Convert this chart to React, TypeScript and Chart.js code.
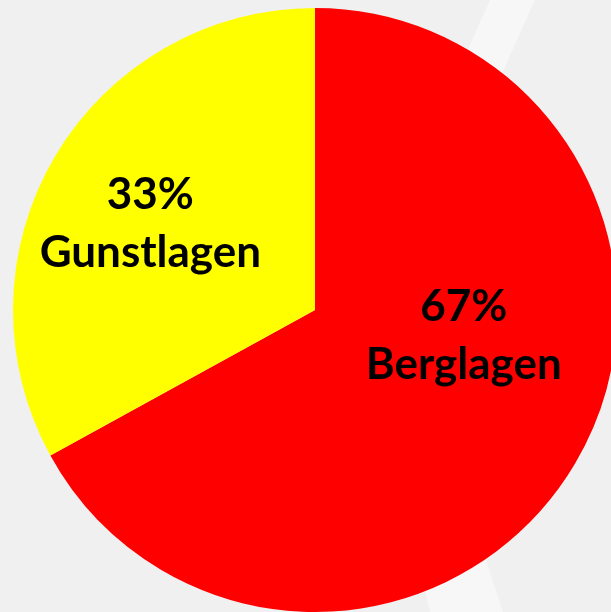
import React, { useEffect, useRef } from "react";
import { Chart, registerables } from "chart.js";

Chart.register(...registerables);

const categories = ["Berglagen", "Gunstlagen"];
const values = [67, 33];
const percentLabels = ["67%", "33%"];
const colors = ["#ff0000", "#ffff00"];

const backgroundPlugin = {
  id: "bgStripe",
  beforeDraw(chart: any) {
    const ctx = chart.ctx;
    ctx.save();
    ctx.fillStyle = "#f0f0f0";
    ctx.fillRect(0, 0, chart.width, chart.height);
    ctx.fillStyle = "#f7f7f7";
    ctx.beginPath();
    ctx.moveTo(490, 0);
    ctx.lineTo(535, 0);
    ctx.lineTo(400, 300);
    ctx.lineTo(503, 612);
    ctx.lineTo(430, 612);
    ctx.lineTo(355, 300);
    ctx.closePath();
    ctx.fill();
    ctx.restore();
  },
};

const labelPlugin = {
  id: "sliceLabels",
  afterDatasetsDraw(chart: any, _args: any, opts: any) {
    const ctx = chart.ctx;
    const meta = chart.getDatasetMeta(0);
    ctx.save();
    ctx.fillStyle = "#000";
    ctx.textAlign = "center";
    ctx.textBaseline = "middle";
    ctx.font = "bold 44px Lato, 'Open Sans', sans-serif";
    meta.data.forEach((arc: any, i: number) => {
      const p = arc.getProps(["x", "y", "startAngle", "endAngle", "outerRadius"], true);
      const mid = (p.startAngle + p.endAngle) / 2 + opts.angleShift[i];
      const r = p.outerRadius * opts.radiusFactor[i];
      const cx = p.x + Math.cos(mid) * r;
      const cy = p.y + Math.sin(mid) * r;
      ctx.fillText(percentLabels[i], cx, cy - 29);
      ctx.fillText(categories[i], cx, cy + 29);
    });
    ctx.restore();
  },
};

export default function App() {
  const ref = useRef<HTMLCanvasElement>(null);
  useEffect(() => {
    document.body.style.margin = "0";
    document.body.style.overflow = "hidden";
    const chart = new Chart(ref.current!, {
      type: "pie",
      data: {
        labels: categories,
        datasets: [
          {
            data: values,
            backgroundColor: colors,
            borderWidth: 0,
          },
        ],
      },
      options: {
        responsive: false,
        animation: false,
        layout: { padding: { left: 13, top: 8, right: 13, bottom: 0 } },
        plugins: {
          legend: { display: false },
          tooltip: { enabled: false },
          sliceLabels: {
            angleShift: [-0.36, -0.05],
            radiusFactor: [0.5, 0.616],
          },
        } as any,
      },
      plugins: [backgroundPlugin, labelPlugin],
    });
    return () => chart.destroy();
  }, []);
  return (
    <div style={{ width: 611, height: 612, overflow: "hidden", background: "#f0f0f0" }}>
      <canvas ref={ref} width={630} height={612} style={{ display: "block" }} />
    </div>
  );
}
